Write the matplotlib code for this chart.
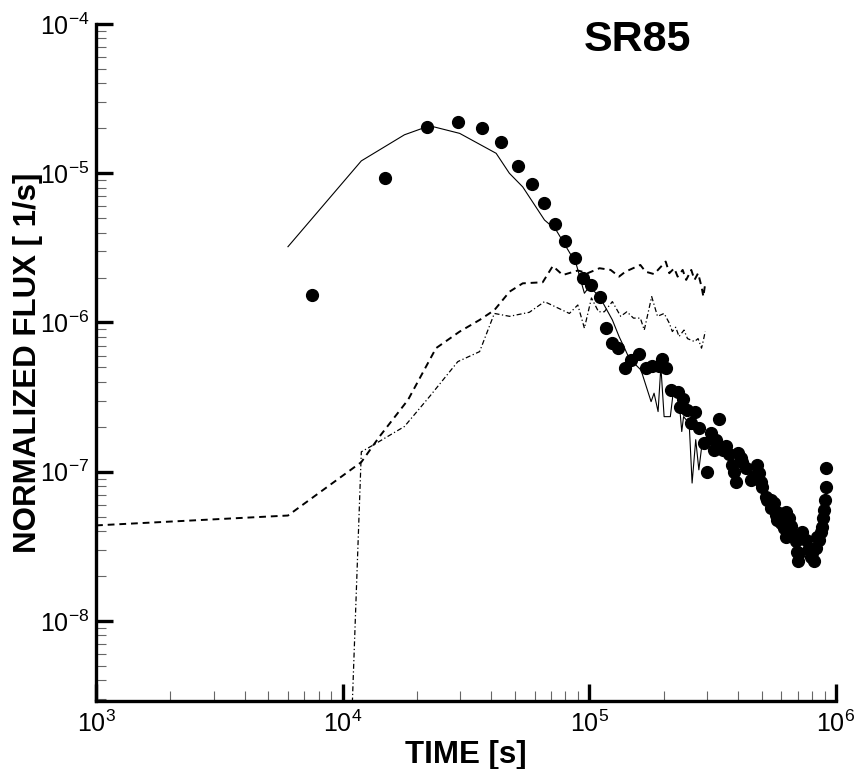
import numpy as np
import matplotlib
matplotlib.use("Agg")
import matplotlib.pyplot as plt
from matplotlib.ticker import LogLocator, LogFormatterMathtext, NullFormatter

plt.rcParams['font.family'] = ['Liberation Sans', 'DejaVu Sans']
plt.rcParams['mathtext.default'] = 'regular'
plt.rcParams['axes.unicode_minus'] = False

# measured data (dots)
t_meas = [7.5e3, 1.48e4, 2.2e4, 2.93e4, 3.66e4, 4.39e4, 5.13e4, 5.87e4, 6.58e4, 7.28e4,
          8.0e4, 8.75e4, 9.45e4, 1.02e5, 1.10e5, 1.17e5, 1.23e5, 1.31e5, 1.39e5, 1.47e5,
          1.59e5, 1.70e5, 1.80e5, 1.92e5, 1.97e5, 2.04e5, 2.14e5, 2.28e5, 2.40e5, 2.34e5,
          2.50e5, 2.69e5, 2.58e5, 2.79e5, 3.34e5, 3.11e5, 2.92e5, 3.26e5, 3.21e5, 2.99e5,
          3.57e5, 3.69e5, 4.02e5, 3.80e5, 3.86e5, 3.92e5, 4.17e5, 4.31e5, 4.51e5, 4.80e5,
          4.88e5, 5.03e5, 5.19e5, 5.44e5, 5.61e5, 5.44e5, 5.79e5, 5.88e5, 6.25e5, 6.45e5,
          6.15e5, 6.25e5, 6.65e5, 6.87e5, 7.31e5, 6.97e5, 7.03e5, 7.54e5, 7.78e5, 8.02e5,
          8.15e5, 8.28e5, 8.40e5, 8.67e5, 8.81e5, 8.86e5, 8.94e5, 9.03e5, 9.08e5, 9.14e5,
          3.13e5, 3.47e5, 4.11e5, 4.66e5, 4.95e5, 5.27e5, 5.70e5, 5.97e5, 6.56e5, 7.08e5,
          7.89e5, 8.53e5, 7.08e5]
f_meas = [1.54e-6, 9.35e-6, 2.05e-5, 2.22e-5, 2.0e-5, 1.61e-5, 1.12e-5, 8.43e-6, 6.35e-6, 4.55e-6,
          3.54e-6, 2.72e-6, 1.98e-6, 1.77e-6, 1.49e-6, 9.25e-7, 7.24e-7, 6.7e-7, 4.93e-7, 5.62e-7,
          6.17e-7, 4.94e-7, 5.12e-7, 5.12e-7, 5.68e-7, 4.94e-7, 3.54e-7, 3.40e-7, 3.06e-7, 2.73e-7,
          2.60e-7, 2.53e-7, 2.12e-7, 1.96e-7, 2.26e-7, 1.81e-7, 1.57e-7, 1.64e-7, 1.40e-7, 1.00e-7,
          1.48e-7, 1.32e-7, 1.33e-7, 1.11e-7, 1.00e-7, 8.59e-8, 1.17e-7, 1.06e-7, 8.83e-8, 1.11e-7,
          9.8e-8, 7.96e-8, 6.82e-8, 6.48e-8, 6.16e-8, 5.71e-8, 4.77e-8, 5.28e-8, 5.41e-8, 4.89e-8,
          4.19e-8, 3.68e-8, 3.88e-8, 3.41e-8, 3.97e-8, 2.92e-8, 2.51e-8, 3.50e-8, 3.08e-8, 2.85e-8,
          2.51e-8, 3.08e-8, 3.68e-8, 3.97e-8, 4.29e-8, 4.89e-8, 5.56e-8, 6.48e-8, 7.96e-8, 1.06e-7,
          1.68e-7, 1.40e-7, 1.23e-7, 9.3e-8, 8.6e-8, 6.48e-8, 5.14e-8, 4.53e-8, 4.30e-8, 3.68e-8,
          2.70e-8, 3.50e-8, 2.85e-8]

# simulated total (solid)
t_total = [6.0e3, 1.19e4, 1.78e4, 2.25e4, 2.98e4, 4.19e4, 4.74e4, 5.37e4, 6.58e4, 7.33e4,
           8.83e4, 9.55e4, 1.0e5, 1.10e5, 1.24e5, 1.32e5, 1.40e5, 1.45e5, 1.62e5, 1.78e5,
           1.83e5, 1.90e5, 1.95e5, 2.01e5, 2.13e5, 2.19e5, 2.31e5, 2.37e5, 2.41e5, 2.54e5,
           2.61e5, 2.70e5, 2.78e5, 2.85e5]
f_total = [3.22e-6, 1.21e-5, 1.81e-5, 2.08e-5, 1.85e-5, 1.36e-5, 1.0e-5, 8.1e-6, 4.86e-6, 4.17e-6,
           2.49e-6, 1.57e-6, 1.74e-6, 1.49e-6, 1.04e-6, 8.05e-7, 6.55e-7, 5.76e-7, 4.8e-7, 2.95e-7,
           3.36e-7, 2.53e-7, 5.07e-7, 2.34e-7, 2.34e-7, 3.44e-7, 3.03e-7, 1.86e-7, 2.34e-7, 2.11e-7,
           8.4e-8, 1.64e-7, 1.03e-7, 1.44e-7]

# dashed component
t_dash = [1.0e3, 6.0e3, 1.19e4, 1.41e4, 1.84e4, 2.39e4, 2.98e4, 3.59e4, 4.12e4, 4.75e4,
          5.37e4, 6.47e4, 7.11e4, 7.8e4, 8.98e4, 9.85e4, 1.10e5, 1.22e5, 1.32e5, 1.40e5,
          1.61e5, 1.69e5, 1.83e5, 2.04e5, 2.11e5, 2.21e5, 2.28e5, 2.39e5, 2.47e5, 2.59e5,
          2.67e5, 2.76e5, 2.85e5, 2.90e5, 2.95e5]
f_dash = [4.37e-8, 5.09e-8, 1.16e-7, 1.72e-7, 3.03e-7, 6.73e-7, 8.69e-7, 1.04e-6, 1.21e-6, 1.61e-6,
          1.83e-6, 1.86e-6, 2.39e-6, 2.08e-6, 2.23e-6, 2.14e-6, 2.31e-6, 2.25e-6, 2.03e-6, 2.19e-6,
          2.43e-6, 2.19e-6, 2.11e-6, 2.56e-6, 2.14e-6, 2.31e-6, 2.03e-6, 2.25e-6, 1.93e-6, 2.25e-6,
          1.93e-6, 2.14e-6, 1.74e-6, 1.49e-6, 1.83e-6]

# dash-dot component
t_dd = [1.07e4, 1.19e4, 1.33e4, 1.78e4, 2.25e4, 2.93e4, 3.59e4, 4.12e4, 4.75e4, 5.71e4,
        6.58e4, 8.3e4, 8.98e4, 9.55e4, 1.02e5, 1.09e5, 1.15e5, 1.24e5, 1.34e5, 1.42e5,
        1.51e5, 1.61e5, 1.67e5, 1.79e5, 1.89e5, 2.01e5, 2.11e5, 2.17e5, 2.24e5, 2.31e5,
        2.42e5, 2.50e5, 2.67e5, 2.76e5, 2.85e5, 2.90e5, 2.95e5]
f_dd = [1e-9, 1.36e-7, 1.51e-7, 2.01e-7, 3.19e-7, 5.47e-7, 6.38e-7, 1.15e-6, 1.10e-6, 1.17e-6,
        1.38e-6, 1.15e-6, 1.31e-6, 9.16e-7, 1.46e-6, 1.18e-6, 1.18e-6, 1.38e-6, 1.10e-6, 1.18e-6,
        1.07e-6, 1.07e-6, 8.9e-7, 1.49e-6, 1.10e-6, 1.15e-6, 9.9e-7, 8.7e-7, 9.3e-7, 8.05e-7,
        8.9e-7, 7.8e-7, 7.45e-7, 7.8e-7, 6.73e-7, 7.6e-7, 8.7e-7]

fig = plt.figure(figsize=(8.59, 7.69), dpi=100)
ax = fig.add_axes([0.1118, 0.0884, 0.8614, 0.8804])

ax.plot(t_total, f_total, color='black', lw=0.8)
ax.plot(t_dash, f_dash, color='black', lw=1.4, dashes=(3.5, 2.5))
ax.plot(t_dd, f_dd, color='black', lw=0.9, dashes=(4, 2, 1, 2))
ax.plot(t_meas, f_meas, 'o', color='black', ms=8.5, mec='black')

ax.set_xscale('log')
ax.set_yscale('log')
ax.set_xlim(1e3, 1e6)
ax.set_ylim(2.91e-9, 1e-4)

ax.spines['top'].set_visible(False)
ax.spines['right'].set_visible(False)
ax.spines['left'].set_linewidth(2.4)
ax.spines['bottom'].set_linewidth(2.4)

for axis in (ax.xaxis, ax.yaxis):
    axis.set_major_locator(LogLocator(base=10, numticks=10))
    axis.set_minor_locator(LogLocator(base=10, subs=np.arange(2, 10), numticks=10))
    axis.set_major_formatter(LogFormatterMathtext())
    axis.set_minor_formatter(NullFormatter())

ax.tick_params(which='major', direction='in', length=12, width=2.4, labelsize=18,
               pad=7, color='black')
ax.tick_params(which='minor', direction='in', length=7, width=0.8, color='#666666')
ax.tick_params(axis='y', which='major', pad=5)

ax.set_xlabel('TIME [s]', fontsize=22.5, fontweight='bold', labelpad=2)
ax.set_ylabel('NORMALIZED FLUX [ 1/s]', fontsize=22.5, fontweight='bold', labelpad=0)
ax.yaxis.set_label_coords(-0.072, 0.5)

fig.text(0.7416, 0.948, 'SR85', fontsize=31, fontweight='bold', ha='center', va='center')

fig.savefig('out.png', dpi=100)
